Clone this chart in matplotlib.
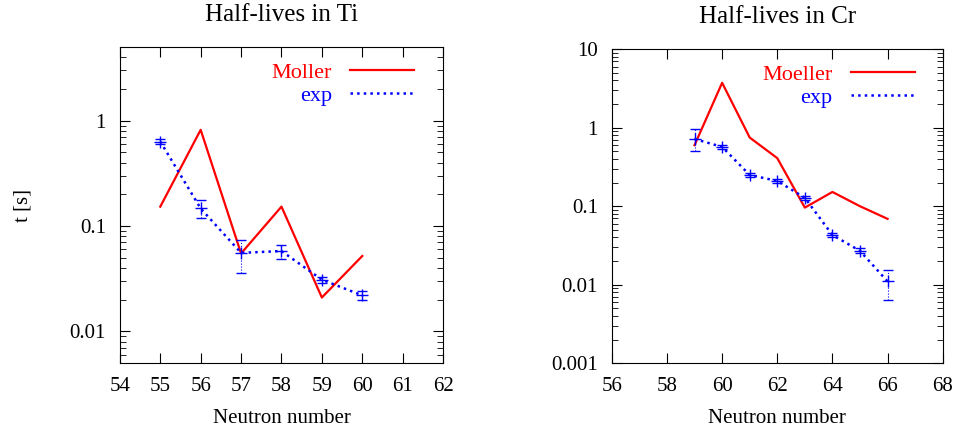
import numpy as np
import matplotlib.pyplot as plt
from matplotlib.lines import Line2D
from matplotlib.ticker import LogLocator, FixedLocator, NullFormatter

plt.rcParams['font.family'] = ['Liberation Serif', 'DejaVu Serif']
plt.rcParams['font.size'] = 15

#%% Data: Ti
ti_n_model = [55, 56, 57, 58, 59, 60]
ti_t_model = [0.153, 0.82, 0.055, 0.153, 0.021, 0.052]
ti_n_exp = [55, 56, 57, 58, 59, 60]
ti_t_exp = [0.635, 0.147, 0.0557, 0.058, 0.031, 0.022]
ti_t_exp_lo = [0.60, 0.119, 0.036, 0.049, 0.029, 0.020]
ti_t_exp_hi = [0.67, 0.176, 0.074, 0.066, 0.033, 0.024]

#%% Data: Cr
cr_n_model = [59, 60, 61, 62, 63, 64, 65, 66]
cr_t_model = [0.60, 3.74, 0.75, 0.41, 0.096, 0.152, 0.10, 0.069]
cr_n_exp = [59, 60, 61, 62, 63, 64, 65, 66]
cr_t_exp = [0.72, 0.57, 0.25, 0.21, 0.128, 0.043, 0.027, 0.011]
cr_t_exp_lo = [0.50, 0.54, 0.235, 0.20, 0.12, 0.040, 0.025, 0.0063]
cr_t_exp_hi = [0.97, 0.60, 0.265, 0.22, 0.136, 0.046, 0.029, 0.0153]

panels = [
    dict(title='Half-lives in Ti', model_label='Moller',
         n_m=ti_n_model, t_m=ti_t_model, n_e=ti_n_exp, t_e=ti_t_exp,
         lo=ti_t_exp_lo, hi=ti_t_exp_hi,
         xlim=(54, 62), xticks=np.arange(54, 63, 1), ylim=(0.005, 5),
         rect=[0.125, 0.167, 0.337, 0.725], leg_x=0.938),
    dict(title='Half-lives in Cr', model_label='Moeller',
         n_m=cr_n_model, t_m=cr_t_model, n_e=cr_n_exp, t_e=cr_t_exp,
         lo=cr_t_exp_lo, hi=cr_t_exp_hi,
         xlim=(56, 68), xticks=np.arange(56, 69, 2), ylim=(0.001, 10),
         rect=[0.638, 0.167, 0.345, 0.720], leg_x=0.943),
]

fig = plt.figure(figsize=(9.59, 4.36), dpi=100)

for i, p in enumerate(panels):
    ax = fig.add_axes(p['rect'])
    ax.plot(p['n_m'], p['t_m'], color='red', lw=1.6)
    t_e = np.array(p['t_e'])
    yerr = [t_e - np.array(p['lo']), np.array(p['hi']) - t_e]
    eb = ax.errorbar(p['n_e'], t_e, yerr=yerr, color='blue', ls=':', lw=1.8,
                     marker='+', ms=8, mew=1.0, ecolor='blue', elinewidth=0.8,
                     capsize=3.3, capthick=0.8)
    for bar in eb[2]:
        bar.set_linestyle(':')
    ax.set_yscale('log')
    ax.set_xlim(*p['xlim'])
    ax.set_ylim(*p['ylim'])
    ax.xaxis.set_major_locator(FixedLocator(p['xticks']))
    ax.yaxis.set_major_locator(LogLocator(base=10, numticks=10))
    ax.yaxis.set_minor_locator(LogLocator(base=10, subs=np.arange(2, 10), numticks=10))
    ax.yaxis.set_minor_formatter(NullFormatter())
    ax.yaxis.set_major_formatter(plt.FuncFormatter(lambda v, pos: '%g' % v))
    ax.tick_params(which='both', direction='in', top=True, right=True)
    ax.tick_params(which='major', length=7, pad=10)
    ax.tick_params(which='minor', length=4)
    ax.set_title(p['title'], pad=19)
    ax.set_xlabel('Neutron number', labelpad=9)
    if i == 0:
        ax.set_ylabel('t [s]', labelpad=27)
    handles = [Line2D([], [], color='red', lw=1.6),
               Line2D([], [], color='blue', lw=1.8, ls=':')]
    ax.legend(handles, [p['model_label'], 'exp'], loc='upper right',
              bbox_to_anchor=(p['leg_x'], 0.98),
              frameon=False, markerfirst=False, labelcolor=['red', 'blue'],
              handlelength=2.9, handletextpad=0.8, labelspacing=0.1,
              borderaxespad=0.0, fontsize=16)

plt.savefig('out.png', dpi=100)
